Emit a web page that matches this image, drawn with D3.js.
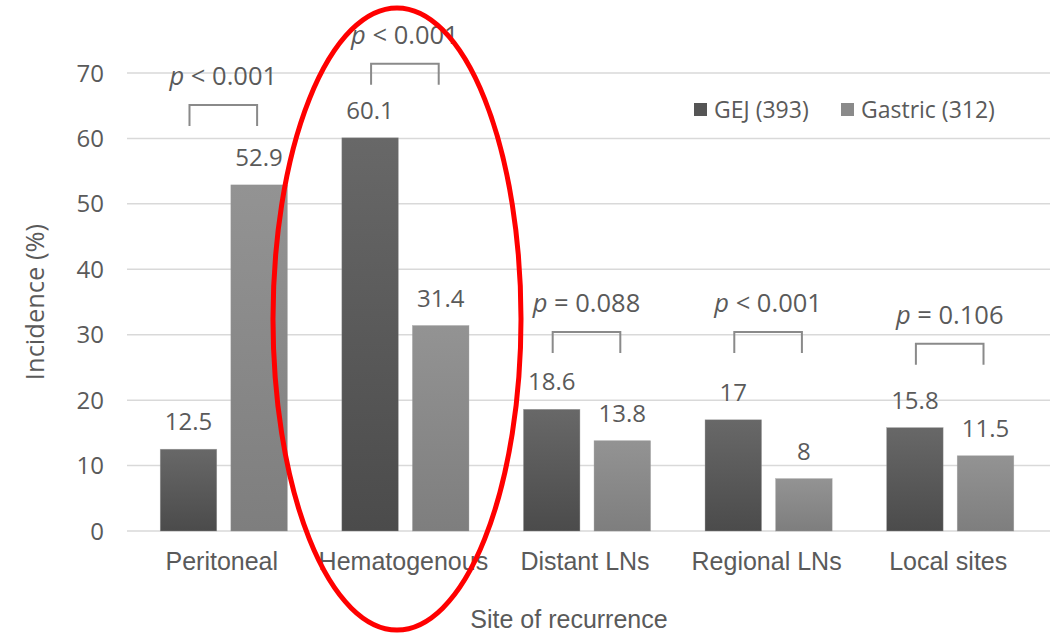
<!DOCTYPE html>
<html>
<head>
<meta charset="utf-8">
<script src="https://cdn.jsdelivr.net/npm/d3@7"></script>
<style>
  html, body { margin: 0; padding: 0; background: #ffffff; }
  svg { display: block; }
</style>
</head>
<body>
<svg id="chart" width="1050" height="637"></svg>
<script>
// ---- data ----
const categories = ["Peritoneal", "Hematogenous", "Distant LNs", "Regional LNs", "Local sites"];
const seriesNames = ["GEJ (393)", "Gastric (312)"];
const gejValues = [12.5, 60.1, 18.6, 17, 15.8];
const gastricValues = [52.9, 31.4, 13.8, 8, 11.5];
const pLabels = ["< 0.001", "< 0.001", "= 0.088", "< 0.001", "= 0.106"];
const pBracketLevels = [65.1, 71.4, 30.4, 30.4, 28.6];
const yTicks = [0, 10, 20, 30, 40, 50, 60, 70];
const yTitle = "Incidence (%)";
const xTitle = "Site of recurrence";

// ---- layout ----
const W = 1050, H = 637;
const svg = d3.select("#chart");
const numFont = "'Open Sans', sans-serif";
const labFont = "'Liberation Sans', Arial, sans-serif";
const textColor = "#5a5a5a";

const y = d3.scaleLinear().domain([0, 70]).range([531, 73]);
const x0 = d3.scaleBand().domain(categories).range([133, 1041]).paddingInner(0.3).paddingOuter(0.15);
const x1 = d3.scaleBand().domain(seriesNames).range([0, x0.bandwidth()]).paddingInner(0.2);

const rows = categories.map((c, i) => ({
  cat: c,
  vals: [{ s: seriesNames[0], v: gejValues[i] }, { s: seriesNames[1], v: gastricValues[i] }],
  p: pLabels[i],
  level: pBracketLevels[i]
}));

// gradients
const defs = svg.append("defs");
const grads = [
  { id: "gGEJ", top: "#686868", bot: "#4b4b4b" },
  { id: "gGas", top: "#939393", bot: "#7e7e7e" }
];
grads.forEach(g => {
  const lg = defs.append("linearGradient").attr("id", g.id).attr("x1", 0).attr("y1", 0).attr("x2", 0).attr("y2", 1);
  lg.append("stop").attr("offset", "0%").attr("stop-color", g.top);
  lg.append("stop").attr("offset", "100%").attr("stop-color", g.bot);
});
const fillFor = s => s === seriesNames[0] ? "url(#gGEJ)" : "url(#gGas)";
const legendFill = s => s === seriesNames[0] ? "#555555" : "#8a8a8a";

// gridlines
svg.append("g").selectAll("line").data(yTicks).join("line")
  .attr("x1", 127).attr("x2", W)
  .attr("y1", d => y(d)).attr("y2", d => y(d))
  .attr("stroke", "#d9d9d9").attr("stroke-width", 1.5);

// y tick labels
svg.append("g").selectAll("text").data(yTicks).join("text")
  .attr("x", 104).attr("y", d => y(d)).attr("dy", "0.36em")
  .attr("text-anchor", "end")
  .attr("font-family", numFont).attr("font-size", 24).attr("fill", textColor)
  .text(d => d);

// bars
const groups = svg.append("g").selectAll("g").data(rows).join("g")
  .attr("transform", d => `translate(${x0(d.cat)},0)`);

groups.selectAll("rect").data(d => d.vals).join("rect")
  .attr("x", d => x1(d.s)).attr("width", x1.bandwidth())
  .attr("y", d => y(d.v)).attr("height", d => y(0) - y(d.v))
  .attr("fill", d => fillFor(d.s))
  .attr("stroke", "#9a9a9a").attr("stroke-width", 0.6).attr("stroke-opacity", 0.6);

// value labels
groups.selectAll("text.val").data(d => d.vals).join("text")
  .attr("class", "val")
  .attr("x", d => x1(d.s) + x1.bandwidth() / 2)
  .attr("y", d => y(d.v) - 19)
  .attr("text-anchor", "middle")
  .attr("font-family", numFont).attr("font-size", 24).attr("fill", textColor)
  .text(d => d.v);

// p-value brackets
groups.each(function(d) {
  const g = d3.select(this);
  const xa = x1(seriesNames[0]) + x1.bandwidth() / 2 + 1;
  const xb = x1(seriesNames[1]) + x1.bandwidth() / 2 - 2;
  const yt = y(d.level);
  g.append("path")
    .attr("d", `M${xa},${yt + 21}V${yt}H${xb}V${yt + 21}`)
    .attr("fill", "none").attr("stroke", "#8a8a8a").attr("stroke-width", 2);
  const t = g.append("text")
    .attr("x", (xa + xb) / 2).attr("y", yt - 20)
    .attr("text-anchor", "middle")
    .attr("font-family", numFont).attr("font-size", 25.5).attr("fill", textColor);
  t.append("tspan").attr("font-style", "italic").text("p");
  t.append("tspan").text(" " + d.p);
});

// category labels
svg.append("g").selectAll("text").data(categories).join("text")
  .attr("x", d => x0(d) + x0.bandwidth() / 2 - 2).attr("y", 570)
  .attr("text-anchor", "middle")
  .attr("font-family", labFont).attr("font-size", 25).attr("fill", textColor)
  .text(d => d);

// axis titles
svg.append("text")
  .attr("transform", "translate(44,302) rotate(-90)")
  .attr("text-anchor", "middle")
  .attr("font-family", numFont).attr("font-size", 25.5).attr("fill", textColor)
  .text(yTitle);

svg.append("text")
  .attr("x", 569).attr("y", 628)
  .attr("text-anchor", "middle")
  .attr("font-family", labFont).attr("font-size", 25).attr("fill", textColor)
  .text(xTitle);

// legend
const legendX = [694, 841];
const lg = svg.append("g").selectAll("g").data(seriesNames).join("g")
  .attr("transform", (d, i) => `translate(${legendX[i]},103)`);
lg.append("rect").attr("width", 13).attr("height", 13).attr("fill", d => legendFill(d));
lg.append("text").attr("x", 20).attr("y", 6.5).attr("dy", "0.36em")
  .attr("font-family", numFont).attr("font-size", 23).attr("fill", textColor)
  .text(d => d);

// red ellipse annotation
svg.append("ellipse")
  .attr("cx", 397).attr("cy", 319).attr("rx", 124).attr("ry", 311)
  .attr("fill", "none").attr("stroke", "#ff0000").attr("stroke-width", 5);
</script>
</body>
</html>
